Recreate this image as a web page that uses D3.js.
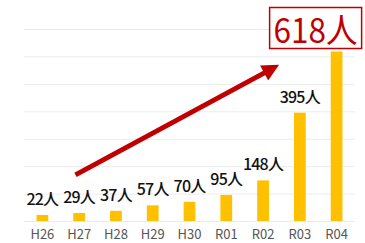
<!DOCTYPE html>
<html>
<head>
  <meta charset="utf-8">
  <script src="https://d3js.org/d3.v7.min.js"></script>
  <style>
    body { margin: 0; background: #fff; }
  </style>
</head>
<body>
  <div id="chart"></div>
<script>
  // data
  const years = ["H26", "H27", "H28", "H29", "H30", "R01", "R02", "R03", "R04"];
  const people = [22, 29, 37, 57, 70, 95, 148, 395, 618];
  const gridTicks = [0, 100, 200, 300, 400, 500, 600, 700];
  const unit = "人";

  const W = 365, H = 243;
  const margin = {top: 29, right: 10, bottom: 22, left: 24};

  const svg = d3.select("#chart").append("svg")
    .attr("width", W)
    .attr("height", H);

  const x = d3.scaleBand()
    .domain(years)
    .range([margin.left, W - margin.right])
    .paddingInner(0.68)
    .paddingOuter(0.34);

  const y = d3.scaleLinear()
    .domain([0, 700])
    .range([H - margin.bottom, margin.top]);

  // light gridlines
  svg.append("g")
    .selectAll("line")
    .data(gridTicks)
    .join("line")
      .attr("x1", margin.left)
      .attr("x2", W - margin.right)
      .attr("y1", d => y(d) + 0.5)
      .attr("y2", d => y(d) + 0.5)
      .attr("stroke", "#ececec")
      .attr("stroke-width", 1);

  // bars
  svg.append("g")
    .selectAll("rect")
    .data(people)
    .join("rect")
      .attr("x", (d, i) => x(years[i]))
      .attr("y", d => y(d))
      .attr("width", x.bandwidth())
      .attr("height", d => y(0) - y(d))
      .attr("fill", "#ffc000");

  // category labels
  const xAxis = svg.append("g")
    .attr("transform", `translate(0,${y(0)})`)
    .call(d3.axisBottom(x).tickSize(0).tickPadding(9));
  xAxis.select(".domain").remove();
  xAxis.selectAll("text")
    .attr("font-family", "'Noto Sans CJK JP', sans-serif")
    .attr("font-size", 13)
    .attr("fill", "#555");

  // value labels (all but the last)
  svg.append("g")
    .selectAll("text")
    .data(people.slice(0, -1))
    .join("text")
      .attr("x", (d, i) => x(years[i]) + x.bandwidth() / 2)
      .attr("y", d => y(d) - 10)
      .attr("text-anchor", "middle")
      .attr("font-family", "'Noto Sans CJK JP', sans-serif")
      .attr("font-size", 16)
      .attr("font-weight", 500)
      .attr("fill", "#111")
      .attr("letter-spacing", -0.8)
      .text(d => d + unit);

  // big red arrow
  const xi = i => x(years[0]) + x.bandwidth() / 2 + i * x.step();
  const from = [xi(0.9), y(168)], to = [xi(6.35), y(563)];
  const defs = svg.append("defs");
  defs.append("marker")
    .attr("id", "head")
    .attr("viewBox", "0 0 10 10")
    .attr("refX", 2).attr("refY", 5)
    .attr("markerWidth", 3.8).attr("markerHeight", 3.4)
    .attr("orient", "auto")
    .append("path")
      .attr("d", "M0,0L10,5L0,10z")
      .attr("fill", "#c00000");

  const dx = to[0] - from[0], dy = to[1] - from[1];
  const len = Math.hypot(dx, dy);
  const ex = to[0] - dx / len * 10, ey = to[1] - dy / len * 10;
  svg.append("line")
    .attr("x1", from[0]).attr("y1", from[1])
    .attr("x2", ex).attr("y2", ey)
    .attr("stroke", "#c00000")
    .attr("stroke-width", 5)
    .attr("marker-end", "url(#head)");

  // boxed label for the last year
  const last = people.length - 1;
  const cx = x(years[last]) + x.bandwidth() / 2 - 21;
  svg.append("rect")
    .attr("x", cx - 46)
    .attr("y", 7.5)
    .attr("width", 92)
    .attr("height", 41)
    .attr("fill", "#fff")
    .attr("stroke", "#c00000")
    .attr("stroke-width", 1.5);
  svg.append("text")
    .attr("x", cx)
    .attr("y", 43)
    .attr("text-anchor", "middle")
    .attr("font-family", "'Noto Sans CJK JP', sans-serif")
    .attr("font-size", 34)
    .attr("fill", "#c00000")
    .attr("textLength", 84)
    .attr("lengthAdjust", "spacingAndGlyphs")
    .text(people[last] + unit);
</script>
</body>
</html>
